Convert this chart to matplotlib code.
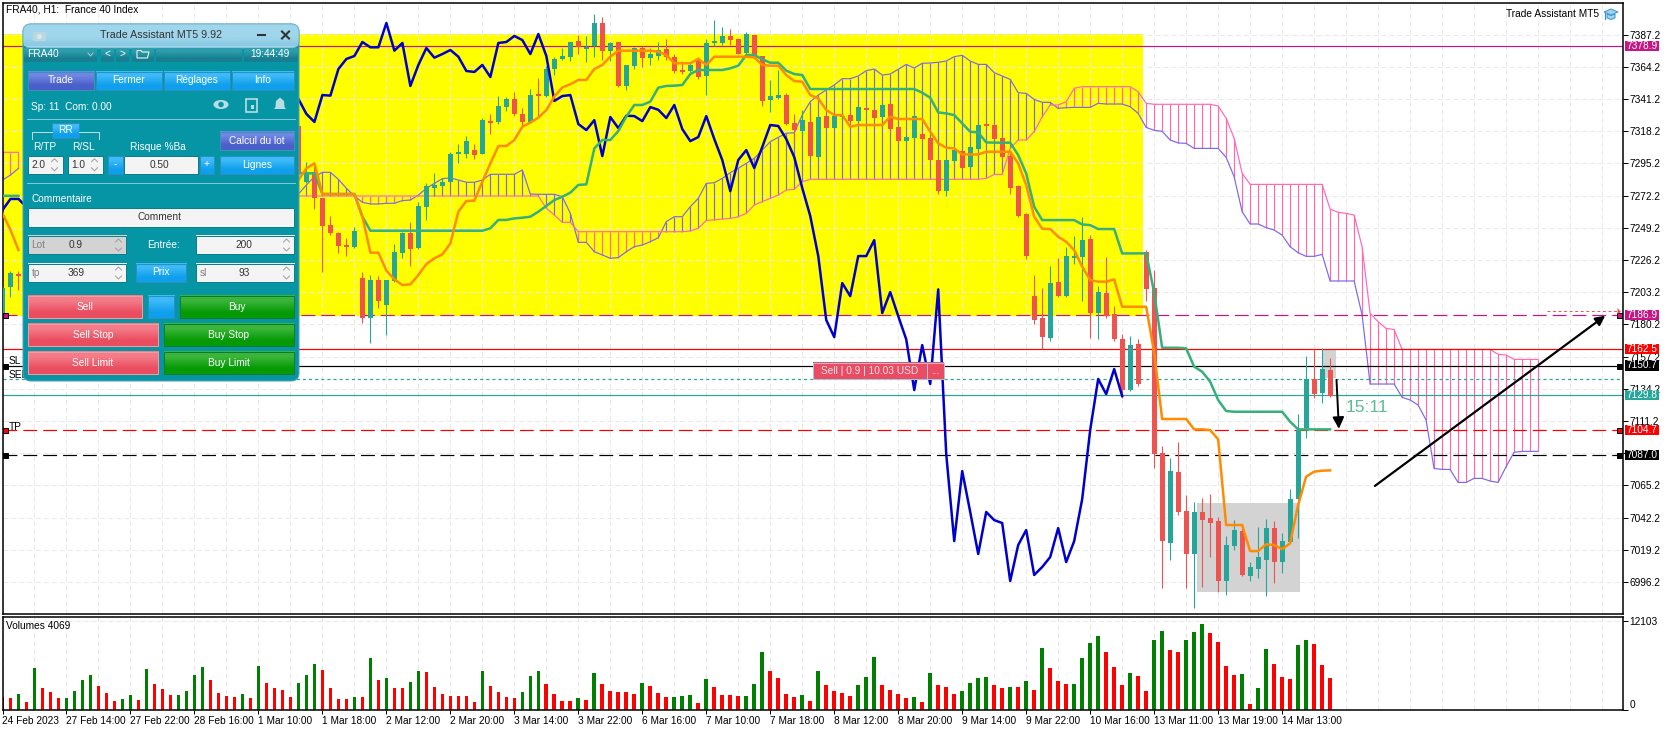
"""
FRA40 H1 chart with ichimoku, volumes and the Trade Assistant panel
"""

import numpy as np
import matplotlib
matplotlib.use('Agg')
import matplotlib.pyplot as plt
import matplotlib.colors as mcolors
from matplotlib.patches import Rectangle, FancyBboxPatch, Ellipse, Polygon

plt.rcParams['font.family'] = ['Liberation Sans', 'DejaVu Sans']
plt.rcParams['lines.scale_dashes'] = False
plt.rcParams['axes.axisbelow'] = True

nan = float('nan')
hidden = [nan] * 34   # bars 3..36 sit behind the panel

opens = [7186.9, 7206.7, 7215.5] + hidden + [7321.9, 7282.1, 7289.3, 7270.2,
    7251.2, 7245.5, 7236.9, 7235.5, 7213.3, 7185.0, 7211.9, 7194.0, 7211.2, 7231.2, 7245.5,
    7234.5, 7264.0, 7277.9, 7279.0, 7282.1, 7302.1, 7301.9, 7304.8, 7301.9, 7325.5, 7324.8,
    7335.5, 7341.2, 7330.5, 7325.0, 7344.0, 7343.3, 7362.6, 7369.8, 7371.2, 7382.6, 7377.1,
    7379.0, 7395.5, 7375.5, 7381.9, 7350.5, 7364.8, 7377.6, 7370.5, 7371.9, 7376.9, 7371.2,
    7361.9, 7360.9, 7369.8, 7357.6, 7381.4, 7381.2, 7386.2, 7384.0, 7374.0, 7386.9, 7371.9,
    7340.5, 7341.7, 7344.2, 7324.0, 7318.3, 7324.7, 7299.7, 7329.0, 7320.4, 7328.0, 7329.7,
    7325.4, 7334.5, 7333.3, 7328.3, 7337.6, 7321.1, 7311.1, 7313.3, 7316.1, 7313.3, 7297.6,
    7275.4, 7296.9, 7304.0, 7292.6, 7305.4, 7323.3, 7322.6, 7313.3, 7300.4, 7279.0, 7259.0,
    7200.4, 7184.7, 7170.4, 7210.4, 7200.4, 7227.6, 7228.3, 7241.1, 7188.3, 7202.6, 7187.6,
    7169.7, 7133.3, 7166.2, 7231.9, 7205.9, 7088.1, 7024.3, 7074.7, 7046.9, 7016.2, 7046.2,
    7041.9, 7039.7, 6996.9, 7021.9, 7032.6, 7000.7, 7005.4, 7011.9, 7034.7, 7010.4, 7024.7,
    7055.4, 7106.2, 7141.2, 7131.2, 7147.6]

highs = [7207.0, 7218.6, 7218.6] + hidden + [7325.0, 7296.4, 7295.2, 7270.2,
    7257.6, 7246.0, 7241.7, 7249.5, 7217.9, 7215.2, 7214.8, 7212.0, 7237.4, 7246.4, 7253.6,
    7267.9, 7281.4, 7288.6, 7284.5, 7303.6, 7309.0, 7314.8, 7309.0, 7327.4, 7330.5, 7343.3,
    7342.9, 7346.2, 7334.5, 7348.3, 7356.2, 7364.8, 7370.9, 7377.4, 7382.1, 7387.1, 7386.4,
    7401.9, 7399.8, 7382.1, 7381.9, 7365.5, 7378.6, 7379.0, 7377.4, 7381.9, 7384.0, 7373.3,
    7368.3, 7367.9, 7370.9, 7384.0, 7397.6, 7392.6, 7391.2, 7384.8, 7389.0, 7386.9, 7371.9,
    7354.8, 7361.9, 7345.2, 7330.4, 7333.3, 7330.9, 7329.7, 7329.7, 7329.7, 7330.9, 7330.9,
    7336.1, 7334.5, 7333.8, 7338.0, 7338.0, 7321.9, 7314.7, 7329.7, 7316.6, 7314.2, 7298.3,
    7298.3, 7305.9, 7304.7, 7307.6, 7323.3, 7323.8, 7323.0, 7314.2, 7304.7, 7279.7, 7260.0,
    7215.4, 7206.1, 7221.9, 7227.6, 7235.7, 7243.3, 7256.9, 7244.0, 7207.6, 7228.5, 7193.3,
    7173.3, 7171.9, 7169.5, 7233.3, 7219.0, 7093.3, 7084.5, 7096.2, 7058.3, 7053.3, 7055.9,
    7059.0, 7042.8, 7029.0, 7040.4, 7036.9, 7010.7, 7035.7, 7040.9, 7039.7, 7030.9, 7062.6,
    7116.2, 7157.6, 7162.6, 7163.1, 7155.9]

lows = [7186.0, 7199.9, 7204.8] + hidden + [7285.0, 7281.4, 7262.4, 7217.9,
    7244.0, 7230.9, 7229.0, 7234.5, 7181.4, 7166.7, 7191.7, 7172.6, 7210.7, 7227.4, 7221.9,
    7233.8, 7254.8, 7271.9, 7278.6, 7281.4, 7295.7, 7298.8, 7298.3, 7301.9, 7316.2, 7323.3,
    7332.6, 7329.0, 7321.4, 7324.8, 7328.6, 7342.4, 7358.6, 7369.0, 7368.3, 7373.3, 7367.6,
    7371.2, 7369.0, 7368.3, 7349.8, 7347.6, 7362.6, 7364.0, 7365.5, 7369.0, 7369.0, 7359.5,
    7359.0, 7360.5, 7355.5, 7344.0, 7379.0, 7379.8, 7379.8, 7373.3, 7372.6, 7371.2, 7336.2,
    7331.9, 7341.4, 7322.6, 7311.9, 7314.2, 7300.0, 7298.8, 7320.2, 7320.2, 7326.1, 7323.8,
    7325.0, 7333.3, 7326.6, 7327.3, 7318.5, 7310.7, 7310.7, 7311.9, 7311.9, 7297.1, 7273.3,
    7271.9, 7296.1, 7291.4, 7291.9, 7304.7, 7321.4, 7311.9, 7297.6, 7273.3, 7257.1, 7226.9,
    7180.4, 7162.6, 7168.3, 7199.5, 7200.0, 7223.3, 7197.1, 7170.4, 7169.7, 7184.5, 7168.5,
    7127.3, 7132.8, 7136.2, 7197.1, 7077.3, 6992.1, 7011.9, 7044.0, 6992.1, 6977.3, 6992.8,
    7014.3, 6989.3, 6986.9, 7019.0, 7000.4, 6996.9, 6998.8, 6986.4, 6995.7, 7002.8, 7023.8,
    7027.8, 7099.3, 7127.6, 7124.3, 7128.3]

closes = [7205.9, 7216.7, 7214.8] + [nan] * 23 + [7261.9, 7269.8, 7269.8, 7264.0] + [nan] * 7 + [
    7288.1, 7288.8, 7270.2, 7250.5,
    7245.7, 7236.2, 7235.7, 7246.9, 7184.5, 7211.9, 7196.9, 7211.9, 7231.9, 7245.5, 7234.0,
    7264.8, 7279.0, 7279.8, 7281.9, 7301.9, 7302.4, 7311.2, 7301.2, 7326.2, 7324.3, 7336.2,
    7341.2, 7330.5, 7324.8, 7344.0, 7343.6, 7362.6, 7369.8, 7371.9, 7381.9, 7378.1, 7378.1,
    7395.5, 7375.7, 7381.2, 7350.5, 7365.5, 7377.6, 7370.7, 7373.3, 7376.2, 7371.4, 7361.2,
    7360.5, 7365.5, 7356.9, 7381.2, 7381.9, 7386.2, 7383.3, 7373.3, 7387.6, 7371.9, 7339.8,
    7343.3, 7344.0, 7323.3, 7319.0, 7326.1, 7300.4, 7328.3, 7320.4, 7329.2, 7329.0, 7325.4,
    7335.4, 7333.5, 7327.6, 7336.9, 7319.7, 7311.1, 7314.0, 7329.0, 7312.6, 7297.6, 7275.4,
    7297.6, 7304.7, 7291.9, 7306.9, 7322.6, 7321.9, 7312.6, 7299.7, 7277.6, 7257.6, 7229.0,
    7183.3, 7171.1, 7209.7, 7200.4, 7229.0, 7229.0, 7240.4, 7188.3, 7203.3, 7186.1, 7169.5,
    7133.3, 7165.4, 7137.6, 7205.2, 7087.6, 7025.4, 7075.4, 7046.2, 7016.2, 7046.2, 7040.4,
    7038.3, 6996.9, 7022.6, 7033.3, 7001.2, 7006.9, 7014.0, 7034.7, 7010.4, 7025.4, 7055.4,
    7104.7, 7141.2, 7130.4, 7148.3, 7129.0]

volumes = [1696, 1558, 2109, 1008, 5684, 2934, 2384, 1558, 1570, 2521, 4034, 4722, 3209, 2246,
    1146, 1421, 1971, 1284, 5547, 3484, 2796, 1971, 1985, 2521, 4722, 5822, 4034, 2246, 1834,
    1696, 2109, 1558, 5959, 3621, 2934, 2659, 1696, 3621, 4722, 6234, 5409, 2934, 1421, 1410,
    1696, 1685, 7059, 4034, 4309, 2934, 2920, 3759, 5272, 5134, 3071, 2109, 1834, 1825, 1815,
    1008, 5272, 3209, 2384, 1696, 1558, 2384, 4584, 5272, 3484, 2109, 1146, 1135, 1558, 1284,
    4997, 3484, 2521, 2384, 2370, 2109, 3621, 3209, 2246, 1696, 1710, 1834, 1971, 871, 4171,
    3071, 1971, 1960, 1834, 1845, 3484, 7885, 5272, 4309, 2109, 1696, 1971, 1146, 5272, 3346,
    2521, 2246, 1834, 3346, 4447, 7197, 3346, 2659, 2109, 1558, 1696, 1008, 4997, 3346, 3071,
    2109, 2521, 3621, 4309, 4447, 3346, 2934, 3071, 3060, 3896, 2659, 8435, 5684, 3896, 3484,
    3495, 7059, 9122, 10085, 7885, 5822, 3346, 4997, 4584, 2521, 9535, 10772, 8160, 7885, 9535,
    10635, 11735, 10497, 9260, 5959, 4722, 4859, 733, 2934, 8297, 6234, 4447, 4171, 8847, 9535,
    8985, 6097, 4309]

tenkan = [7259.5, 7247.6, 7233.3] + hidden + [7283.3, 7291.7, 7295.2, 7273.3, 7273.3, 7273.3,
    7273.3, 7273.3, 7257.1, 7231.4, 7231.4, 7218.6, 7212.4, 7208.3, 7208.8, 7215.5, 7223.3,
    7227.4, 7230.2, 7238.1, 7260.7, 7268.3, 7268.6, 7282.1, 7295.2, 7307.6, 7307.6, 7311.9,
    7321.4, 7324.3, 7327.9, 7333.3, 7342.9, 7349.5, 7351.7, 7354.8, 7354.8, 7362.6, 7365.5,
    7371.4, 7375.7, 7375.7, 7375.7, 7375.7, 7375.7, 7375.0, 7372.6, 7366.7, 7366.7, 7366.7,
    7369.8, 7365.5, 7371.4, 7371.4, 7371.4, 7371.4, 7371.4, 7370.9, 7365.5, 7365.0, 7365.0,
    7358.3, 7354.0, 7353.5, 7344.0, 7341.6, 7333.3, 7329.7, 7329.7, 7321.4, 7322.6, 7322.6,
    7322.6, 7322.6, 7328.5, 7326.9, 7326.9, 7326.9, 7326.9, 7317.8, 7309.5, 7306.4, 7305.9,
    7301.6, 7301.6, 7301.6, 7303.5, 7303.5, 7303.5, 7303.5, 7295.2, 7279.7, 7257.1, 7248.5,
    7248.3, 7242.8, 7239.2, 7233.3, 7221.4, 7211.9, 7210.7, 7210.7, 7212.3, 7192.8, 7192.8,
    7192.8, 7192.8, 7160.0, 7112.6, 7112.6, 7112.6, 7112.6, 7105.2, 7105.2, 7104.7, 7098.1,
    7036.9, 7036.9, 7036.9, 7018.3, 7018.3, 7023.1, 7022.6, 7019.7, 7023.8, 7051.2, 7071.4,
    7075.0, 7075.7, 7075.9]

kijun = [7272.0, 7272.0, 7272.0] + hidden + [7288.1, 7288.1, 7288.1, 7273.3, 7273.3, 7273.3,
    7273.3, 7273.3, 7257.1] + [7247.1] * 15 + [7248.8, 7254.8, 7254.8, 7255.9, 7256.4, 7257.1,
    7260.7, 7264.8, 7269.0, 7271.4, 7274.3, 7279.8, 7280.2, 7305.9, 7311.9, 7311.9, 7318.3,
    7328.6, 7336.9, 7336.9, 7339.3, 7349.3, 7350.5, 7350.7, 7351.2, 7359.0, 7361.9, 7361.9,
    7361.9, 7361.9, 7363.1, 7365.0, 7372.6, 7372.6, 7369.5, 7367.1, 7367.1, 7361.4, 7359.0,
    7358.3] + [7348.3] * 14 + [7345.7, 7342.1, 7331.6, 7330.9, 7329.7, 7323.8, 7317.8, 7317.3,
    7310.2, 7310.0, 7310.0, 7310.0, 7301.1, 7288.0, 7264.2, 7254.7, 7254.7, 7254.7, 7254.7,
    7254.7, 7251.6, 7251.1, 7248.3, 7248.3, 7248.3, 7230.9, 7230.9, 7230.9, 7230.9, 7203.0,
    7163.5, 7163.5, 7163.5, 7163.1, 7150.0, 7146.4, 7139.3, 7126.2, 7118.3] + [7117.8] * 7 + [
    7110.7, 7105.2, 7105.2, 7105.2, 7105.2, 7105.2]

span_a = [7283.3, 7286.9, 7291.7] + hidden + [7273.3, 7279.8, 7285.7, 7288.8, 7288.8, 7283.8,
    7277.4, 7271.9, 7267.4, 7266.2, 7266.2, 7266.7, 7266.7, 7268.6, 7269.0, 7272.6, 7277.4,
    7280.9, 7284.3, 7284.8, 7283.3, 7281.7, 7281.7, 7283.3, 7287.4, 7287.4, 7287.4, 7287.4,
    7290.5, 7273.3, 7273.1, 7273.1, 7273.1, 7271.4, 7259.5, 7238.8, 7238.8, 7232.1, 7229.8,
    7227.4, 7227.9, 7232.1, 7235.7, 7236.9, 7239.3, 7242.1, 7253.6, 7257.1, 7257.1, 7264.3,
    7270.2, 7280.9, 7281.4, 7284.5, 7288.6, 7291.7, 7295.2, 7298.8, 7304.8, 7310.7, 7313.8,
    7316.7, 7317.1, 7329.8, 7339.3, 7344.0, 7347.6, 7351.2, 7355.7, 7355.7, 7357.6, 7361.4,
    7362.6, 7358.3, 7359.0, 7362.4, 7365.9, 7363.3, 7366.7, 7366.9, 7367.4, 7368.3, 7371.4,
    7372.4, 7368.3, 7365.9, 7365.9, 7360.0, 7357.6, 7355.2, 7345.7, 7345.2, 7340.9, 7338.8,
    7338.8, 7334.5, 7335.0, 7335.2, 7335.2, 7335.2, 7338.1, 7337.6, 7337.6, 7337.6, 7335.7,
    7330.9, 7320.9, 7318.8, 7318.1, 7311.9, 7309.8, 7309.5, 7305.9, 7305.9, 7305.9, 7305.9,
    7299.5, 7285.7, 7260.7, 7251.9, 7251.9, 7249.3, 7247.6, 7244.0, 7235.7, 7231.4, 7228.8,
    7228.8, 7230.2, 7211.2, 7211.2, 7211.2, 7211.2, 7186.9, 7137.6, 7137.6, 7137.6, 7137.6,
    7128.1, 7126.2, 7122.6, 7111.9, 7077.3, 7076.6, 7076.6, 7067.3, 7067.3, 7070.2, 7070.2,
    7068.3, 7067.3, 7078.5, 7088.8, 7089.5, 7089.5, 7089.5]

span_b = [7303.1, 7303.1, 7303.1] + hidden + [7271.9] * 31 + [7263.1, 7258.3, 7253.1, 7253.1] + [
    7246.4] * 14 + [7246.9, 7248.8, 7254.5, 7254.8, 7255.5, 7255.9, 7257.1, 7259.5, 7265.5,
    7267.9, 7270.2, 7272.6, 7276.2, 7276.7, 7282.1] + [7283.8] * 22 + [7284.5, 7287.3, 7287.3,
    7305.9, 7311.9, 7311.9, 7317.8, 7328.5, 7336.9, 7336.9, 7339.2, 7348.8] + [7350.0] * 7 + [
    7346.4, 7338.1] + [7337.4] * 8 + [7336.2, 7327.4, 7313.1, 7288.1] + [7280.2] * 10 + [
    7262.6, 7260.2, 7259.5, 7258.3, 7235.7, 7188.1, 7182.1, 7177.3, 7176.6] + [7162.3] * 12 + [
    7158.8, 7158.3, 7155.2, 7155.2, 7155.2, 7155.2]

price_ticks = [7387.2, 7364.2, 7341.2, 7318.2, 7295.2, 7272.2, 7249.2, 7226.2, 7203.2, 7180.2,
    7157.2, 7134.2, 7111.2, 7088.2, 7065.2, 7042.2, 7019.2, 6996.2]
time_labels = ['24 Feb 2023', '27 Feb 14:00', '27 Feb 22:00', '28 Feb 16:00', '1 Mar 10:00',
    '1 Mar 18:00', '2 Mar 12:00', '2 Mar 20:00', '3 Mar 14:00', '3 Mar 22:00', '6 Mar 16:00',
    '7 Mar 10:00', '7 Mar 18:00', '8 Mar 12:00', '8 Mar 20:00', '9 Mar 14:00', '9 Mar 22:00',
    '10 Mar 16:00', '13 Mar 11:00', '13 Mar 19:00', '14 Mar 13:00']

W, H = 1670, 730
UP, DOWN = '#26a69a', '#ef5350'
PX = 0.72   # one pixel in points at dpi 100
FS = 7.3
THICK = 2.5 * PX


def add_axes_px(left, top, right, bottom, **kw):
    return fig.add_axes([left / W, 1 - bottom / H, (right - left) / W, (bottom - top) / H], **kw)


fig = plt.figure(figsize=(W / 100, H / 100), dpi=100)
ax = add_axes_px(2.5, 2.5, 1622.5, 614)
vol = add_axes_px(2.5, 616.5, 1622.5, 709.5)

opens, highs, lows, closes = map(np.array, (opens, highs, lows, closes))
span_a, span_b = np.array(span_a), np.array(span_b)
bars = np.arange(len(closes))

for a in (ax, vol):
    a.set_xlim(0.0625, 202.56)
    a.set_xticks(np.arange(0, 161, 8))
    a.set_xticks([i for i in range(0, 201, 4) if i % 8 or i > 160], minor=True)
    a.grid(True, which='both', color='#e9e9e9', lw=PX, linestyle=(0, (3.6, 2.2)))
    a.tick_params(which='minor', length=0)
    a.yaxis.tick_right()
    for s in a.spines.values():
        s.set_linewidth(1.1)

ax.set_ylim(7411.9 - 614 / 1.4, 7411.9 - 2.5 / 1.4)
ax.set_yticks(price_ticks)
# 7088.2 lies under the 7087.0 level label
ax.set_yticklabels(['' if p == 7088.2 else '%.1f' % p for p in price_ticks])
ax.tick_params(axis='y', length=3.6, width=PX, labelsize=FS, pad=1.5)
ax.tick_params(axis='x', which='major', length=0, labelbottom=False)

# background objects
ax.add_patch(Rectangle((0, 7186.2), 142.6, 201.4, fc='#ffff00', ec='none', zorder=0.1))
ax.add_patch(Rectangle((149.3, 6989.3), 12.9, 63.1, fc='#d3d3d3', ec='none', zorder=1))
ax.add_patch(Rectangle((165.0, 7142.0), 1.7, 19.9, fc='#d3d3d3', ec='none', zorder=1))

# ichimoku cloud, one hatch per bar
cx = np.arange(len(span_a))
cloud_colors = ['#7b68ee' if a >= b else '#ff69b4' for a, b in zip(span_a, span_b)]
ax.vlines(cx, span_a, span_b, colors=cloud_colors, lw=1.2 * PX, zorder=1.5)
ax.plot(cx, span_a, color='#7b68ee', lw=1.2 * PX, zorder=1.6)
ax.plot(cx, span_b, color='#ff69b4', lw=1.2 * PX, zorder=1.6)

# horizontal levels
long_dash = (0, (10, 4.3))
ax.axhline(7378.9, color='#c71585', lw=1.2 * PX, zorder=2)
ax.axhline(7186.9, color='#c71585', lw=1.2 * PX, linestyle=long_dash, zorder=2)
ax.axhline(7162.5, color='#ff0000', lw=1.2 * PX, zorder=2)
ax.axhline(7150.7, color='#000000', lw=1.2 * PX, zorder=2)
ax.axhline(7141.0, color='#26a69a', lw=1.2 * PX, linestyle=(0, (2.2, 2.2)), zorder=2)
ax.axhline(7129.8, color='#26a69a', lw=1.2 * PX, zorder=2)
ax.axhline(7104.7, color='#ff0000', lw=1.2 * PX, linestyle=long_dash, zorder=2)
ax.axhline(7087.0, color='#000000', lw=1.2 * PX, linestyle=long_dash, zorder=2)

# candles
has_body = ~np.isnan(opens)
colors = np.where(closes >= opens, UP, DOWN)
ax.vlines(bars[has_body], lows[has_body], highs[has_body], colors=colors[has_body], lw=1.1 * PX, zorder=3)
ax.bar(bars[has_body], np.maximum(np.abs(closes - opens)[has_body], 1.2),
       bottom=np.minimum(opens, closes)[has_body], width=0.65, color=colors[has_body], zorder=3.1)

# ichimoku lines, chikou is the close drawn 26 bars back
ax.plot(np.arange(len(closes) - 26), closes[26:], color='#0000cd', lw=THICK, zorder=4)
ax.plot(np.arange(len(kijun)), kijun, color='#35b07a', lw=THICK, zorder=4.1)
ax.plot(np.arange(len(tenkan)), tenkan, color='#ff8c00', lw=THICK, zorder=4.2)

# hand drawn arrows
ax.annotate('', xy=(200.4, 7186.4), xytext=(171.6, 7064.8), zorder=5,
            arrowprops=dict(arrowstyle='-|>', color='black', lw=1.6, mutation_scale=14, shrinkA=0, shrinkB=0))
ax.annotate('', xy=(167.1, 7105.6), xytext=(166.8, 7140.5), zorder=5,
            arrowprops=dict(arrowstyle='-|>', color='black', lw=1.4, mutation_scale=17, shrinkA=0, shrinkB=0))
ax.plot([193.1, 202.3], [7189.5, 7189.5], color='#f05050', lw=PX, linestyle=(0, (2, 2)), zorder=5)
ax.text(170.6, 7120.5, '15:11', color='#5dbb95', fontsize=12.5, ha='center', va='center', zorder=5)

for label, p in (('SL', 7153.8), ('SEL', 7143.8), ('TP', 7107.2)):
    ax.text(0.75, p, label, fontsize=FS, va='center', zorder=5, clip_on=True)

# volumes, green when higher than the bar before
vol_colors = ['#008000' if i and volumes[i] > volumes[i - 1] else '#ff0000' for i in bars]
vol.bar(bars, volumes, width=0.46, color=vol_colors, zorder=2)
vol.set_ylim(0, 12747)
vol.set_yticks([0, 12103])
vol.set_yticklabels(['0', '12103'])
vol.tick_params(axis='y', length=3.6, width=PX, labelsize=FS, pad=1.5)
vol.get_yticklabels()[0].set_va('bottom')
vol.set_xticklabels(time_labels, ha='left', fontsize=FS)
vol.tick_params(axis='x', which='major', length=3, width=PX, pad=2)

# everything else in picture pixels
ov = fig.add_axes([0, 0, 1, 1], zorder=10)
ov.set_xlim(0, W)
ov.set_ylim(H, 0)
ov.axis('off')


def text(x, y, s, color='white', size=FS, ha='center', **kw):
    ov.text(x, y, s, color=color, fontsize=size, ha=ha, va='center', **kw)


def box(x0, y0, x1, y1, top, bottom=None, edge=None):
    bottom = bottom or top
    grad = np.array([[mcolors.to_rgb(top)], [mcolors.to_rgb(bottom)]])
    ov.imshow(grad, extent=(x0, x1, y1, y0), aspect='auto', interpolation='bilinear', zorder=2)
    if edge:
        ov.add_patch(Rectangle((x0, y0), x1 - x0, y1 - y0, fc='none', ec=edge, lw=PX, zorder=2.1))


def spin(x, y):
    for sign in (-1, 1):
        ov.plot([x - 3, x, x + 3], [y + sign * 3, y + sign * 6, y + sign * 3], color='#a0a0a0', lw=PX, zorder=3)


def blue_button(x0, y0, x1, y1, label=''):
    box(x0, y0, x1, y1, '#3dbaf8', '#0f9fec', '#2a8fc0')
    text((x0 + x1) / 2, (y0 + y1) / 2 - 0.5, label)


def indigo_button(x0, y0, x1, y1, label):
    box(x0, y0, x1, y1, '#6f86e4', '#4a5fc9', '#3f8fb8')
    text((x0 + x1) / 2, (y0 + y1) / 2 - 0.5, label)


def red_button(x0, y0, x1, y1, label):
    box(x0, y0, x1, y1, '#f47c88', '#ea4d60', '#f59aa0')
    text((x0 + x1) / 2, (y0 + y1) / 2 - 0.5, label)


def green_button(x0, y0, x1, y1, label):
    box(x0, y0, x1, y1, '#3ab53a', '#069a06', '#0c7c2c')
    text((x0 + x1) / 2, (y0 + y1) / 2 - 0.5, label)


def field(x0, y0, x1, y1, color='#f4f4f4'):
    box(x0, y0, x1, y1, color, color, '#0c7f8d')


# top texts
text(6.5, 10, 'FRA40, H1:  France 40 Index', color='black', ha='left')
text(5.5, 626, 'Volumes 4069', color='black', ha='left')
text(1599, 13.7, 'Trade Assistant MT5', color='black', ha='right')
ov.add_patch(Polygon([[1604, 12], [1611, 9], [1618, 12], [1611, 15]], fc='#9fd4f0', ec='#3f94cc', lw=PX, zorder=2))
ov.add_patch(Polygon([[1607, 14], [1607, 18], [1611, 19.5], [1615, 18], [1615, 14], [1611, 15.5]],
                     fc='#9fd4f0', ec='#3f94cc', lw=PX, zorder=2))
ov.plot([1605, 1605], [12.5, 18.5], color='#3f94cc', lw=1.2 * PX, zorder=2)

# price labels on the right
for p, label, c in ((7378.9, '7378.9', '#c71585'), (7186.9, '7186.9', '#c71585'),
                    (7162.5, '7162.5', '#ff0000'), (7150.7, '7150.7', '#000000'),
                    (7129.8, '7129.8', '#26a69a'), (7104.7, '7104.7', '#ff0000'),
                    (7087.0, '7087.0', '#000000')):
    y = (7411.9 - p) * 1.4
    ov.add_patch(Rectangle((1625, y - 5.2), 34.3, 10.4, fc=c, ec='none', zorder=1))
    text(1642, y - 0.3, label, zorder=3)

# anchors of the levels
for x, y, c in ((5, 315, '#c71585'), (5, 366, 'black'), (5, 430.4, '#ff0000'), (5, 455, 'black'),
                (1619.5, 315, '#c71585'), (1619.5, 366, 'black'), (1619.5, 430.4, '#ff0000'), (1619.5, 455, 'black')):
    ov.add_patch(Rectangle((x - 2.5, y - 2.5), 5, 5, fc=c, ec='black', lw=PX, zorder=1))
ov.add_patch(Polygon([[1617.5, 308], [1621, 312], [1617.5, 314]], fc='#f05050', ec='none', zorder=1))

# open position tag
box(812.7, 362.7, 926.7, 379.3, '#ea4c63', '#ea4c63', '#a9c4d6')
box(927.3, 362.7, 944.3, 379.3, '#ea4c63', '#ea4c63', '#a9c4d6')
text(869.5, 370.5, 'Sell | 0.9 | 10.03 USD', color='#f6e4e8')
text(935.5, 371, '...', color='#f6e4e8')

# trade panel
ov.add_patch(FancyBboxPatch((26, 27), 270, 351, boxstyle='round,pad=3,rounding_size=8',
                            fc='#0695a5', ec='#4aa3b5', lw=PX, zorder=1))
ov.add_patch(FancyBboxPatch((26, 27), 270, 18, boxstyle='round,pad=3,rounding_size=8',
                            fc='#a0d6ec', ec='#78b6cc', lw=PX, zorder=1.5))
box(24, 38, 298, 46.5, '#9ad3ea', '#8ccbe4')
ov.add_patch(Rectangle((33, 32), 13, 9, fc='#bcd6df', ec='none', zorder=3))
ov.add_patch(Ellipse((39.5, 36.5), 5, 5, fc='#d8e8ee', ec='none', zorder=3.1))
text(160.7, 35, 'Trade Assistant MT5 9.92', color='#333333', size=7.7, zorder=3)
ov.plot([258, 265], [35, 35], color='#333333', lw=1.5, zorder=3)
ov.plot([282, 289], [31.5, 38.5], color='#333333', lw=1.5, zorder=3)
ov.plot([282, 289], [38.5, 31.5], color='#333333', lw=1.5, zorder=3)

for x0, x1 in ((24, 97), (101, 114), (116, 128.6), (132, 153.6), (156, 242), (244, 297.5)):
    box(x0, 47.7, x1, 61.7, '#2d9cab', '#177f90')
text(27, 54.3, 'FRA40', ha='left', zorder=3)
ov.plot([88, 90.5, 93], [53, 56, 53], color='#9fd0d8', lw=PX, zorder=3)
text(107.5, 54.3, '<', zorder=3)
text(122.3, 54.3, '>', zorder=3)
ov.add_patch(Polygon([[137, 50.5], [141, 50.5], [142, 52], [149, 52], [147.5, 58], [137, 58]],
                     fc='none', ec='white', lw=PX, zorder=3))
text(270, 54.3, '19:44:49', zorder=3)

indigo_button(27.5, 71.7, 94, 90, 'Trade')
blue_button(95.7, 71.7, 161.8, 90, 'Fermer')
blue_button(164, 71.7, 229.6, 90, 'Réglages')
blue_button(232, 71.7, 294, 90, 'Info')

text(31.4, 107, 'Sp: 11  Com: 0.00', ha='left')
ov.add_patch(Ellipse((221, 104.5), 15, 9, fc='#b9dde4', ec='none', zorder=3))
ov.add_patch(Ellipse((221, 104.5), 5.5, 5.5, fc='#0695a5', ec='none', zorder=3.1))
ov.add_patch(Rectangle((245.5, 99), 11, 12.5, fc='none', ec='#b9dde4', lw=1.2, zorder=3))
ov.add_patch(Rectangle((250.5, 105), 3.5, 3.5, fc='#b9dde4', ec='none', zorder=3))
ov.add_patch(Polygon([[280, 97.5], [284, 101], [284.5, 107], [286, 109], [274, 109], [275.5, 107], [276, 101]],
                     fc='#b9dde4', ec='none', zorder=3))
ov.plot([27, 295], [119.3, 119.3], color='#7fc8d4', lw=PX, zorder=3)

ov.plot([31.5, 31.5, 52], [138.5, 131.5, 131.5], color='#b9dde4', lw=PX, zorder=3)
ov.plot([78.5, 98.5, 98.5], [131.5, 131.5, 138.5], color='#b9dde4', lw=PX, zorder=3)
blue_button(51.8, 123.3, 78.6, 138.3, 'RR')
text(44.3, 147, 'R/TP', zorder=3)
text(83.6, 147, 'R/SL', zorder=3)
text(157.5, 147, 'Risque %Ba', zorder=3)
indigo_button(219.6, 132, 294, 150.3, 'Calcul du lot')

field(27.9, 156, 62.5, 174)
field(67.9, 156, 102.5, 174)
field(124, 156, 197.9, 174)
text(38, 165.3, '2.0', color='#333333', zorder=3)
text(78.6, 165.3, '1.0', color='#333333', zorder=3)
text(159, 165.3, '0.50', color='#333333', zorder=3)
spin(54.5, 164.8)
spin(94.5, 164.8)
blue_button(107.9, 156, 122.5, 174, '-')
blue_button(199.6, 156, 214.3, 174, '+')
blue_button(219.6, 156, 294, 174, 'Lignes')
ov.plot([27, 295], [183.3, 183.3], color='#7fc8d4', lw=PX, zorder=3)

text(31.4, 199, 'Commentaire', ha='left')
field(27.9, 208.3, 294, 226.7)
text(160, 217.3, 'Comment', color='#333333', zorder=3)

field(27.9, 236, 126.4, 254.3, '#d3d3d3')
text(31.5, 244.5, 'Lot', color='#808080', ha='left', zorder=3)
text(75.4, 245.3, '0.9', color='#333333', zorder=3)
spin(118.5, 245)
text(164, 245, 'Entrée:', zorder=3)
field(195.7, 236, 294, 254.3)
text(244, 245.3, '200', color='#333333', zorder=3)
spin(286.5, 245)

field(27.9, 264, 126.4, 282.3)
text(31.5, 272.5, 'tp', color='#808080', ha='left', zorder=3)
text(76, 273.3, '369', color='#333333', zorder=3)
spin(118.5, 273)
blue_button(135.7, 263.5, 186.4, 282, 'Prix')
field(195.7, 264, 294, 282.3)
text(199.5, 272.5, 'sl', color='#808080', ha='left', zorder=3)
text(244, 273.3, '93', color='#333333', zorder=3)
spin(286.5, 273)

red_button(27.9, 295.7, 142, 318.3, 'Sell')
blue_button(147.9, 295.7, 174.3, 318.3)
green_button(179.6, 295.7, 294, 318.3, 'Buy')
red_button(27.9, 323.7, 158.2, 346.3, 'Sell Stop')
green_button(163.6, 323.7, 294, 346.3, 'Buy Stop')
red_button(27.9, 351.7, 158.2, 374.3, 'Sell Limit')
green_button(163.6, 351.7, 294, 374.3, 'Buy Limit')

for t in ov.texts:
    t.set_zorder(5)
ov.set_xlim(0, W)
ov.set_ylim(H, 0)

plt.savefig('out.png', dpi=100)
